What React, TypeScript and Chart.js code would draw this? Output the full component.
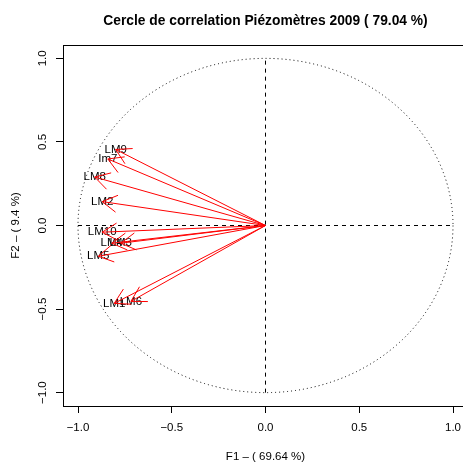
import React, { useEffect, useRef } from "react";
import { Chart, registerables } from "chart.js";

Chart.register(...registerables);

// ---- data ----
const variables = ["LM9", "Im7", "LM8", "LM2", "LM10", "LM4", "LM3", "LM5", "LM1", "LM6"];
const f1 = [-0.799, -0.841, -0.911, -0.871, -0.871, -0.82, -0.772, -0.892, -0.807, -0.718];
const f2 = [0.455, 0.398, 0.29, 0.143, -0.04, -0.106, -0.106, -0.184, -0.466, -0.454];
const tickValues = [-1, -0.5, 0, 0.5, 1];
const tickLabels = ["\u22121.0", "\u22120.5", "0.0", "0.5", "1.0"];
const titleText = "Cercle de correlation Piézomètres 2009 ( 79.04 %)";
const xTitle = "F1 \u2013 ( 69.64 %)";
const yTitle = "F2 \u2013 ( 9.4 %)";

const FONT = "'Liberation Sans', Arial, Helvetica, sans-serif";

const corPlugin = {
  id: "corCircle",
  afterDatasetsDraw(chart: any) {
    const ctx = chart.ctx as CanvasRenderingContext2D;
    const xs = chart.scales.x;
    const ys = chart.scales.y;
    const { left, right, top, bottom } = chart.chartArea;
    const x0 = xs.getPixelForValue(0);
    const y0 = ys.getPixelForValue(0);
    ctx.save();
    ctx.lineWidth = 1;
    ctx.strokeStyle = "#000";

    // unit circle (dotted)
    const rx = xs.getPixelForValue(1) - x0;
    const ry = y0 - ys.getPixelForValue(1);
    ctx.setLineDash([1, 3]);
    ctx.beginPath();
    ctx.ellipse(x0, y0, rx, ry, 0, 0, Math.PI * 2);
    ctx.stroke();

    // dashed axes
    ctx.setLineDash([4, 4]);
    ctx.beginPath();
    ctx.moveTo(xs.getPixelForValue(-1), y0);
    ctx.lineTo(xs.getPixelForValue(1), y0);
    ctx.stroke();
    ctx.beginPath();
    ctx.moveTo(x0, ys.getPixelForValue(-1));
    ctx.lineTo(x0, ys.getPixelForValue(1));
    ctx.stroke();
    ctx.setLineDash([]);

    const meta = chart.getDatasetMeta(0);

    // labels
    ctx.fillStyle = "#000";
    ctx.font = `11.5px ${FONT}`;
    ctx.textAlign = "center";
    ctx.textBaseline = "middle";
    meta.data.forEach((pt: any, i: number) => {
      ctx.fillText(variables[i], pt.x, pt.y);
    });

    // arrows
    ctx.strokeStyle = "#ff0000";
    const head = 17;
    meta.data.forEach((pt: any) => {
      const ang = Math.atan2(pt.y - y0, pt.x - x0);
      ctx.beginPath();
      ctx.moveTo(x0, y0);
      ctx.lineTo(pt.x, pt.y);
      ctx.moveTo(pt.x - head * Math.cos(ang - Math.PI / 6), pt.y - head * Math.sin(ang - Math.PI / 6));
      ctx.lineTo(pt.x, pt.y);
      ctx.lineTo(pt.x - head * Math.cos(ang + Math.PI / 6), pt.y - head * Math.sin(ang + Math.PI / 6));
      ctx.stroke();
    });

    // box
    ctx.strokeStyle = "#000";
    ctx.strokeRect(Math.round(left) + 0.5, Math.round(top) + 0.5, Math.round(right - left), Math.round(bottom - top));

    // titles
    ctx.fillStyle = "#000";
    ctx.textAlign = "center";
    ctx.textBaseline = "middle";
    const cx = (left + right) / 2;
    ctx.font = `bold 13.8px ${FONT}`;
    ctx.fillText(titleText, cx, 21);
    ctx.font = `11.5px ${FONT}`;
    ctx.fillText(xTitle, cx, 456.5);
    ctx.save();
    ctx.translate(16, (top + bottom) / 2);
    ctx.rotate(-Math.PI / 2);
    ctx.fillText(yTitle, 0, 0);
    ctx.restore();

    ctx.restore();
  },
};

export default function App() {
  const ref = useRef<HTMLCanvasElement | null>(null);
  useEffect(() => {
    if (!ref.current) return;
    const setTicks = (scale: any) => {
      scale.ticks = tickValues.map((v) => ({ value: v }));
    };
    const chart = new Chart(ref.current, {
      type: "scatter",
      data: {
        datasets: [
          {
            data: f1.map((x, i) => ({ x, y: f2[i] })),
            pointRadius: 0,
            pointHoverRadius: 0,
            showLine: false,
          },
        ],
      },
      options: {
        animation: false,
        responsive: false,
        devicePixelRatio: 1,
        events: [],
        layout: { padding: { top: 45, right: 12, bottom: 0, left: 0 } },
        plugins: { legend: { display: false }, tooltip: { enabled: false }, title: { display: false } },
        scales: {
          x: {
            type: "linear",
            min: -1.08,
            max: 1.08,
            afterBuildTicks: setTicks,
            afterFit: (s: any) => {
              s.height = 59;
            },
            grid: { display: true, drawOnChartArea: false, drawTicks: true, tickLength: 7, color: "#000" },
            border: { display: false },
            ticks: {
              autoSkip: false,
              maxRotation: 0,
              minRotation: 0,
              padding: 8,
              color: "#000",
              font: { family: FONT, size: 11.5 },
              callback: (_v: any, i: number) => tickLabels[i],
            },
          },
          y: {
            type: "linear",
            min: -1.08,
            max: 1.08,
            afterBuildTicks: setTicks,
            afterFit: (s: any) => {
              s.width = 63;
            },
            grid: { display: true, drawOnChartArea: false, drawTicks: true, tickLength: 7, color: "#000" },
            border: { display: false },
            ticks: {
              autoSkip: false,
              minRotation: 90,
              maxRotation: 90,
              crossAlign: "center",
              padding: 2,
              color: "#000",
              font: { family: FONT, size: 11.5 },
              callback: (_v: any, i: number) => tickLabels[i],
            },
          },
        },
      },
      plugins: [corPlugin],
    });
    return () => chart.destroy();
  }, []);

  return (
    <div
      style={{
        position: "fixed",
        left: 0,
        top: 0,
        width: 463,
        height: 465,
        overflow: "hidden",
        background: "#fff",
      }}
    >
      <canvas ref={ref} width={480} height={465} style={{ display: "block" }} />
    </div>
  );
}
